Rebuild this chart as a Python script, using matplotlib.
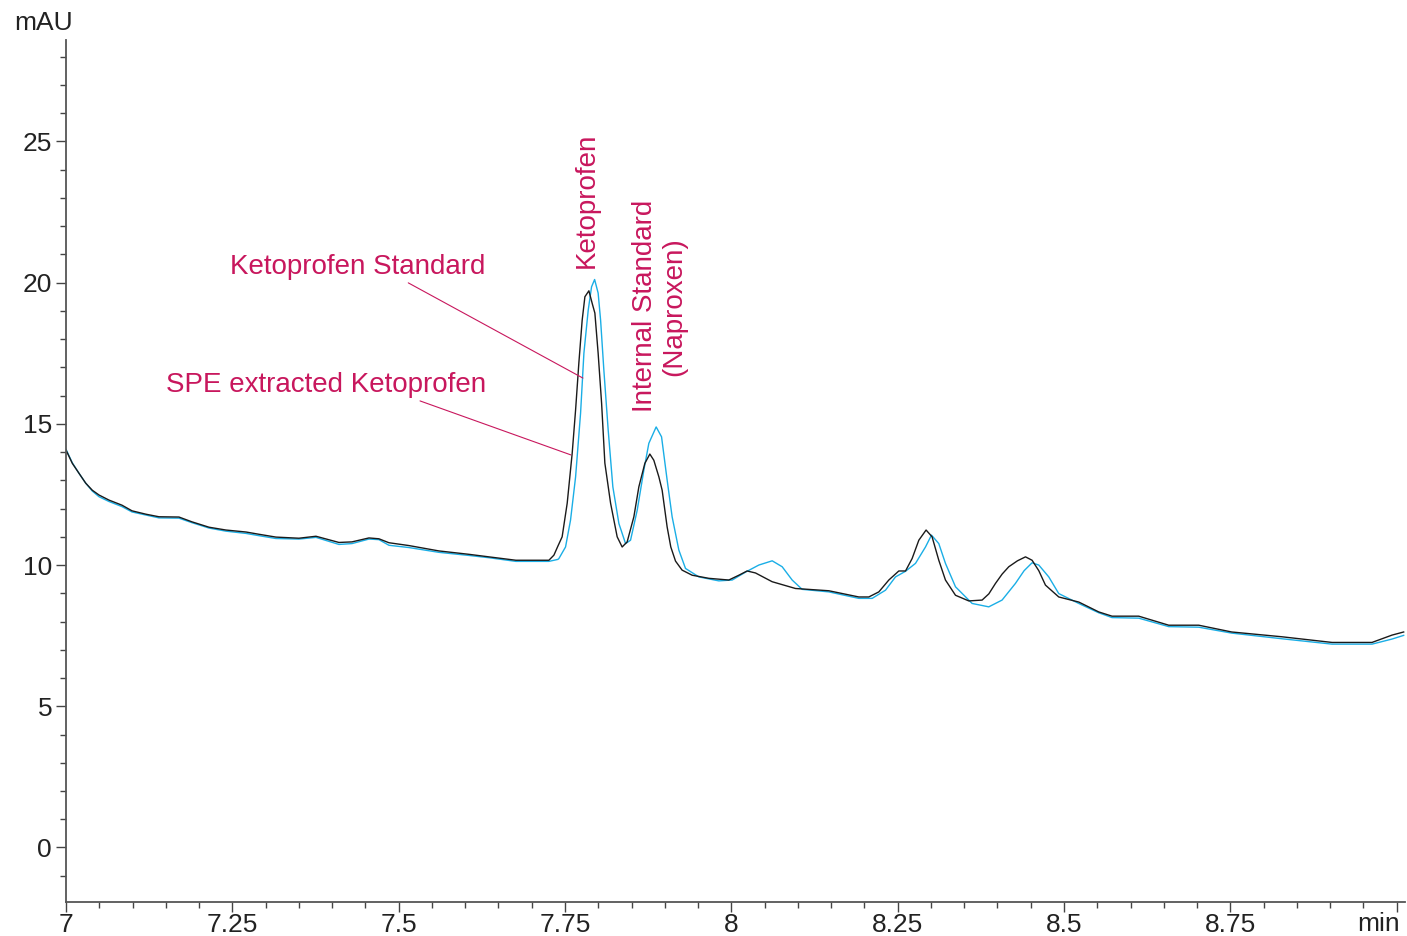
import matplotlib
matplotlib.use('Agg')
import matplotlib.pyplot as plt
import numpy as np

plt.rcParams['font.family'] = ['Liberation Sans', 'DejaVu Sans']

# SPE extracted Ketoprofen (black trace)
spe_time = [7.000, 7.0095, 7.0195, 7.0296, 7.0395, 7.0496, 7.0646, 7.0841, 7.0992, 7.1202,
            7.1397, 7.1698, 7.1893, 7.2149, 7.2404, 7.2705, 7.2900, 7.3155, 7.3501, 7.3757,
            7.4102, 7.4298, 7.4553, 7.4703, 7.4854, 7.5154, 7.5605, 7.6056, 7.6356, 7.6762,
            7.7258, 7.7333, 7.7393, 7.7457, 7.7533, 7.7608, 7.7659, 7.7708, 7.7758, 7.7799,
            7.7859, 7.7908, 7.7949, 7.7998, 7.8050, 7.8099, 7.8185, 7.8284, 7.8359, 7.8434,
            7.8535, 7.8610, 7.8700, 7.8775, 7.8835, 7.8911, 7.8960, 7.9035, 7.9090, 7.9161,
            7.9260, 7.9411, 7.9662, 7.9962, 8.0113, 8.0237, 8.0363, 8.0613, 8.0964, 8.1465,
            8.1916, 8.2066, 8.2217, 8.2367, 8.2517, 8.2618, 8.2717, 8.2818, 8.2927, 8.3017,
            8.3118, 8.3218, 8.3369, 8.3569, 8.3769, 8.3870, 8.3970, 8.4070, 8.4170, 8.4300,
            8.4421, 8.4520, 8.4621, 8.4721, 8.4921, 8.5222, 8.5522, 8.5722, 8.6123, 8.6574,
            8.7025, 8.7521, 8.8277, 8.9029, 8.9629, 8.9930, 9.0105]
spe_mau = [14.07, 13.60, 13.25, 12.90, 12.65, 12.48, 12.30, 12.12, 11.92, 11.80,
           11.71, 11.70, 11.53, 11.34, 11.24, 11.17, 11.09, 10.99, 10.95, 11.02,
           10.80, 10.82, 10.96, 10.93, 10.79, 10.69, 10.50, 10.38, 10.29, 10.17,
           10.17, 10.35, 10.67, 11.00, 12.19, 13.96, 15.49, 17.15, 18.67, 19.50,
           19.71, 19.27, 18.92, 17.50, 15.73, 13.61, 12.19, 11.00, 10.64, 10.82,
           11.71, 12.77, 13.60, 13.93, 13.71, 13.12, 12.65, 11.35, 10.64, 10.14,
           9.82, 9.64, 9.53, 9.47, 9.64, 9.79, 9.72, 9.41, 9.17, 9.09,
           8.87, 8.87, 9.05, 9.47, 9.79, 9.79, 10.23, 10.88, 11.24, 11.00,
           10.17, 9.47, 8.93, 8.73, 8.76, 8.98, 9.35, 9.68, 9.94, 10.15,
           10.29, 10.17, 9.80, 9.29, 8.87, 8.69, 8.34, 8.19, 8.19, 7.87,
           7.87, 7.63, 7.46, 7.26, 7.26, 7.52, 7.63]

# Ketoprofen Standard (cyan trace)
std_time = [7.000, 7.0095, 7.0195, 7.0296, 7.0395, 7.0496, 7.0646, 7.0841, 7.0992, 7.1202,
            7.1397, 7.1698, 7.1893, 7.2149, 7.2404, 7.2705, 7.2900, 7.3155, 7.3501, 7.3757,
            7.4102, 7.4298, 7.4553, 7.4703, 7.4854, 7.5154, 7.5605, 7.6056, 7.6356, 7.6762,
            7.7258, 7.7393, 7.7408, 7.7508, 7.7583, 7.7659, 7.7734, 7.7784, 7.7849, 7.7899,
            7.7945, 7.7998, 7.8035, 7.8084, 7.8149, 7.8219, 7.8310, 7.8410, 7.8485, 7.8585,
            7.8685, 7.8760, 7.8870, 7.8951, 7.9035, 7.9110, 7.9211, 7.9311, 7.9512, 7.9812,
            8.0013, 8.0213, 8.0413, 8.0614, 8.0764, 8.0914, 8.1064, 8.1465, 8.1916, 8.2116,
            8.2317, 8.2467, 8.2618, 8.2768, 8.2918, 8.3008, 8.3118, 8.3218, 8.3369, 8.3619,
            8.3869, 8.4069, 8.4270, 8.4400, 8.4520, 8.4621, 8.4771, 8.4921, 8.5222, 8.5522,
            8.5722, 8.6123, 8.6574, 8.7025, 8.7521, 8.8277, 8.9029, 8.9629, 8.9930, 9.0105]
std_mau = [14.10, 13.62, 13.25, 12.90, 12.62, 12.42, 12.25, 12.07, 11.88, 11.77,
           11.67, 11.66, 11.50, 11.31, 11.20, 11.12, 11.04, 10.94, 10.92, 10.98,
           10.73, 10.76, 10.92, 10.90, 10.70, 10.62, 10.45, 10.34, 10.26, 10.13,
           10.13, 10.20, 10.23, 10.64, 11.59, 13.12, 15.38, 17.50, 19.03, 19.85,
           20.11, 19.63, 18.67, 16.90, 14.78, 12.77, 11.47, 10.76, 10.88, 11.94,
           13.36, 14.31, 14.89, 14.54, 13.01, 11.71, 10.53, 9.88, 9.58, 9.44,
           9.47, 9.75, 10.00, 10.15, 9.94, 9.47, 9.14, 9.05, 8.82, 8.82,
           9.11, 9.58, 9.78, 10.06, 10.64, 11.06, 10.76, 10.06, 9.23, 8.64,
           8.52, 8.76, 9.35, 9.80, 10.08, 10.00, 9.58, 8.99, 8.64, 8.31,
           8.14, 8.12, 7.82, 7.80, 7.59, 7.39, 7.20, 7.20, 7.38, 7.51]

x_major = [7, 7.25, 7.5, 7.75, 8, 8.25, 8.5, 8.75, 9.0]
x_labels = ['7', '7.25', '7.5', '7.75', '8', '8.25', '8.5', '8.75', '']
y_major = [0, 5, 10, 15, 20, 25]

LABEL_COLOR = '#c8175d'
AXIS_FS = 19
NOTE_FS = 20

fig = plt.figure(figsize=(14.07, 9.36), dpi=100)
ax = fig.add_axes([66 / 1407, 34 / 936, 1339 / 1407, 862 / 936])

ax.plot(std_time, std_mau, color='#1aaee6', lw=1.0)
ax.plot(spe_time, spe_mau, color='#1a1a1a', lw=1.0)

ax.set_xlim(7.0, 9.0125)
ax.set_ylim(-1.93, 28.59)

ax.set_xticks(x_major)
ax.set_xticklabels(x_labels)
ax.set_xticks(np.arange(7.0, 9.001, 0.05), minor=True)
ax.set_yticks(y_major)
ax.set_yticks(np.arange(-1, 29, 1), minor=True)

for s in ['top', 'right']:
    ax.spines[s].set_visible(False)
for s in ['left', 'bottom']:
    ax.spines[s].set_color('#555555')
    ax.spines[s].set_linewidth(1.3)

ax.tick_params(which='major', length=7, width=1.0, color='#444444', labelsize=AXIS_FS, labelcolor='#222222')
ax.tick_params(which='minor', length=4, width=1.0, color='#444444')
ax.tick_params(axis='x', which='major', pad=1)
ax.tick_params(axis='y', which='major', pad=3)

fig.text(14 / 1407, 1 - 11 / 936, 'mAU', fontsize=AXIS_FS, color='#222222', ha='left', va='top')
fig.text(1379 / 1407, 1 - 912 / 936, 'min', fontsize=AXIS_FS, color='#222222', ha='center', va='top')

# peak labels
ax.text(7.7829, 20.51, 'Ketoprofen', rotation=90, ha='center', va='bottom',
        fontsize=NOTE_FS, color=LABEL_COLOR)
ax.text(7.8926, 15.41, 'Internal Standard\n(Naproxen)', rotation=90, ha='center', va='bottom',
        multialignment='center', linespacing=1.15, fontsize=NOTE_FS, color=LABEL_COLOR)

# trace labels with leader lines
ax.annotate('Ketoprofen Standard', xy=(7.7769, 16.62), xytext=(7.6296, 20.55),
            ha='right', va='center', fontsize=NOTE_FS, color=LABEL_COLOR,
            arrowprops=dict(arrowstyle='-', color=LABEL_COLOR, lw=0.8,
                            shrinkA=0, shrinkB=0, relpos=(0.68, 0.0)))
ax.annotate('SPE extracted Ketoprofen', xy=(7.7588, 13.90), xytext=(7.6311, 16.37),
            ha='right', va='center', fontsize=NOTE_FS, color=LABEL_COLOR,
            arrowprops=dict(arrowstyle='-', color=LABEL_COLOR, lw=0.8,
                            shrinkA=0, shrinkB=0, relpos=(0.77, 0.0)))

fig.savefig('out.png', dpi=100)
